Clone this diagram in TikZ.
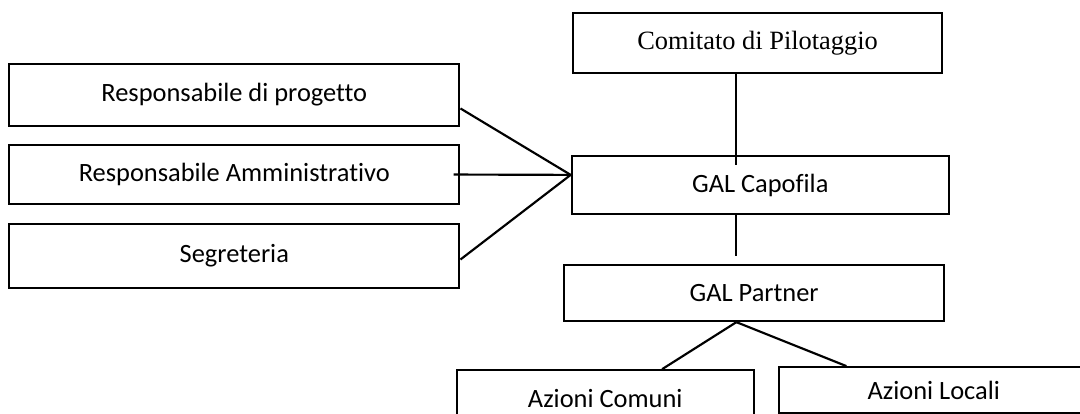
\documentclass[tikz,border=0pt]{standalone}
\usepackage{fontspec}
\setmainfont{Carlito}[Ligatures=NoCommon]
\newfontfamily\timesfont{Liberation Serif}
\usetikzlibrary{calc}

\begin{document}
\begin{tikzpicture}[
  font=\fontsize{11}{13}\selectfont,
  box/.style={draw,line width=0.9pt,inner sep=0pt,align=center},
  link/.style={line width=0.9pt}
]
\useasboundingbox (0,0) rectangle (15.81,-6.06);

% steering committee above the lead GAL, staff boxes on the left
\node[box,minimum width=5.40cm,minimum height=0.88cm,font=\timesfont\fontsize{11}{13}\selectfont] (com) at (11.09,-0.63) {Comitato di Pilotaggio};

\node[box,minimum width=6.59cm,minimum height=0.91cm] (rp) at (3.43,-1.39) {Responsabile di progetto};
\node[box,minimum width=6.59cm,minimum height=0.86cm] (ra) at (3.43,-2.555) {Responsabile Amministrativo};
\node[box,minimum width=6.59cm,minimum height=0.94cm] (seg) at (3.43,-3.75) {Segreteria};

\node[box,minimum width=5.52cm,minimum height=0.85cm] (cap) at (11.13,-2.71) {GAL Capofila};
\node[box,minimum width=5.56cm,minimum height=0.82cm] (par) at (11.04,-4.29) {GAL Partner};

% the two action boxes run off the bottom and right edge of the page
\node[box,minimum width=4.35cm,minimum height=0.82cm] (ac) at (8.86,-5.83) {Azioni Comuni};
\node[box,minimum width=4.54cm,minimum height=0.67cm] (al) at (13.67,-5.71) {Azioni Locali};

% the vertical links are off-centre, and the three staff lines meet a bit above cap.west
\coordinate (spine) at (10.78,0);
\coordinate (hub) at ($(cap.west)+(0,0.15)$);
\draw[link] (com.south -| spine) -- ($(cap.north -| spine)+(0,-0.15)$);
\draw[link] (cap.south -| spine) -- ($(par.north -| spine)+(0,0.12)$);
\draw[link] ($(rp.north east)!0.71!(rp.south east)$) -- (hub);
\draw[link] ($(ra.east)+(-0.1,0)$) -- (hub);
\draw[link] ($(seg.north east)!0.55!(seg.south east)$) -- (hub);
\draw[link] (par.south -| spine) -- ($(ac.north west)!0.69!(ac.north east)$);
\draw[link] (par.south -| spine) -- ($(al.north west)!0.22!(al.north east)$);

\end{tikzpicture}
\end{document}
